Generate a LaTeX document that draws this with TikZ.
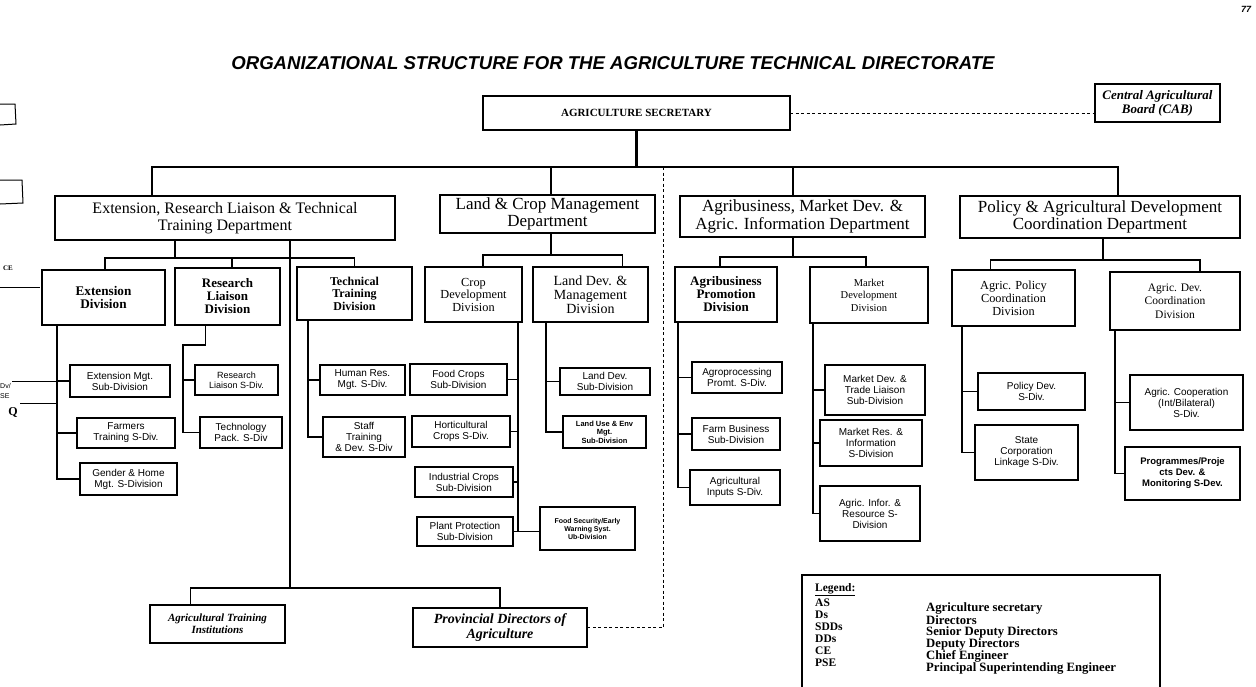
\documentclass[tikz,border=0pt]{standalone}
\usepackage{fontspec}
\setmainfont{Liberation Serif}
\setsansfont{Liberation Sans}
\begin{document}
\begin{tikzpicture}[x=1pt,y=-1pt,
  box/.style={draw, align=center, inner sep=0pt, outer sep=0pt},
  asbox/.style={box, line width=2.6pt, font=\fontsize{11}{12}\selectfont\bfseries},
  cabbox/.style={box, line width=1.2pt, font=\fontsize{13}{14}\selectfont\bfseries\itshape},
  dept/.style={box, line width=2.4pt, font=\fontsize{17}{17.5}\selectfont},
  divn/.style={box, line width=2.2pt, font=\fontsize{13}{13}\selectfont\bfseries},
  divr/.style={box, line width=2.2pt, font=\fontsize{12}{12.5}\selectfont},
  sub/.style={box, line width=1.2pt, font=\sffamily\fontsize{10}{11}\selectfont},
  subs/.style={box, line width=1.2pt, font=\sffamily\fontsize{7}{8}\selectfont\bfseries},
  bottombox/.style={box, line width=1.2pt, font=\fontsize{14}{15}\selectfont\bfseries\itshape},
  conn/.style={line width=1.1pt},
  bus/.style={line width=2.6pt},
  dbus/.style={line width=1.8pt},
  dashl/.style={line width=1pt, dash pattern=on 3pt off 2.5pt},
  leg/.style={anchor=west, inner sep=0pt, font=\fontsize{11.5}{12}\selectfont\bfseries},
  legr/.style={anchor=west, inner sep=0pt, font=\fontsize{12.7}{12}\selectfont\bfseries},
]
\useasboundingbox (0,0) rectangle (1256,686);

% title and page number
\node[font=\sffamily\bfseries\itshape\fontsize{18.6}{20}\selectfont] (title) at (613,63)
  {ORGANIZATIONAL STRUCTURE FOR THE AGRICULTURE TECHNICAL DIRECTORATE};
\node[font=\sffamily\bfseries\itshape\fontsize{9}{10}\selectfont] (pg) at (1246,9) {77};

% top level
\node[asbox, minimum width=307pt, minimum height=34pt] (AS) at (636.5,113) {AGRICULTURE SECRETARY};
\node[cabbox, minimum width=125pt, minimum height=38pt] (CAB) at (1157.5,103) {Central Agricultural\\Board (CAB)};
\draw[dashl] (AS.east) -- (AS.east -| CAB.west);

% departments
\node[dept, minimum width=340pt, minimum height=44pt, font=\fontsize{16}{17}\selectfont] (D1) at (225,218) {Extension, Research Liaison \& Technical\\Training Department};
\node[dept, minimum width=215pt, minimum height=38pt] (D2) at (547.5,214) {Land \& Crop Management\\Department};
\node[dept, minimum width=245pt, minimum height=41pt] (D3) at (802.5,216.5) {Agribusiness, Market Dev. \&\\Agric. Information Department};
\node[dept, minimum width=280pt, minimum height=42pt] (D4) at (1100,217) {Policy \& Agricultural Development\\Coordination Department};

\path (AS.south) ++(0,37) coordinate (mb);
\draw[bus] (AS.south) -- (mb);
\draw[bus] ([xshift=-73pt]D1.north) |- (mb) -| ([xshift=18pt]D4.north);
\draw[bus] ([xshift=3.5pt]D2.north) -- ([xshift=3.5pt]D2.north |- mb);
\draw[bus] ([xshift=-9.5pt]D3.north) -- ([xshift=-9.5pt]D3.north |- mb);

% divisions
\node[divn, minimum width=123pt, minimum height=55pt, font=\fontsize{13.2}{13.5}\selectfont\bfseries] (Ext) at (103.5,297.5) {Extension\\Division};
\node[divn, minimum width=105pt, minimum height=57pt] (RL) at (227.5,296.5) {Research\\Liaison\\Division};
\node[divn, minimum width=115pt, minimum height=53pt, font=\fontsize{12}{12.5}\selectfont\bfseries] (TT) at (354.5,293.5) {Technical\\Training\\Division};
\node[divr, minimum width=97pt, minimum height=55pt, font=\fontsize{12.3}{12.5}\selectfont] (CD) at (473.5,294.5) {Crop\\Development\\Division};
\node[divr, minimum width=115pt, minimum height=55pt, font=\fontsize{14}{14}\selectfont] (LD) at (590.5,294.5) {Land Dev. \&\\Management\\Division};
\node[divn, minimum width=102pt, minimum height=55pt, font=\fontsize{13}{13}\selectfont\bfseries] (AP) at (726,294.5) {Agribusiness\\Promotion\\Division};
\node[divr, minimum width=118pt, minimum height=56pt, font=\fontsize{10.5}{12.5}\selectfont] (MD) at (869,295) {Market\\Development\\Division};
\node[divr, minimum width=123pt, minimum height=56pt, font=\fontsize{12.3}{13}\selectfont] (APC) at (1013.5,298) {Agric. Policy\\Coordination\\Division};
\node[divr, minimum width=130pt, minimum height=58pt, font=\fontsize{11.5}{13.5}\selectfont] (ADC) at (1175,301) {Agric. Dev.\\Coordination\\Division};

% department -> division buses
\path ([xshift=-50pt]D1.south) ++(0,18) coordinate (b1);
\draw[dbus] ([xshift=-50pt]D1.south) -- (b1);
\draw[dbus] ([xshift=1.5pt]Ext.north) |- (b1) -| (TT.north);
\draw[dbus] ([xshift=4.5pt]RL.north) -- ([xshift=4.5pt]RL.north |- b1);
\path ([xshift=3.5pt]D2.south) ++(0,22) coordinate (b2);
\draw[dbus] ([xshift=3.5pt]D2.south) -- (b2);
\draw[dbus] ([xshift=9.5pt]CD.north) |- (b2) -| ([xshift=32pt]LD.north);
\path ([xshift=-9.5pt]D3.south) ++(0,20) coordinate (b3);
\draw[dbus] ([xshift=-9.5pt]D3.south) -- (b3);
\draw[dbus] ([xshift=-6pt]AP.north) |- (b3) -| ([xshift=-3pt]MD.north);
\path ([xshift=3pt]D4.south) ++(0,22) coordinate (b4);
\draw[dbus] ([xshift=3pt]D4.south) -- (b4);
\draw[dbus] ([xshift=-23pt]APC.north) |- (b4) -| ([xshift=25pt]ADC.north);

% extension sub-divisions
\node[sub, minimum width=100pt, minimum height=32pt] (EM) at (120,381) {Extension Mgt.\\Sub-Division};
\node[sub, minimum width=98pt, minimum height=30pt] (FT) at (126,433) {Farmers\\Training S-Div.};
\node[sub, minimum width=97pt, minimum height=32pt] (GH) at (128.5,479) {Gender \& Home\\Mgt. S-Division};
\path ([xshift=15pt]Ext.south west) coordinate (s1);
\draw[conn] (s1) |- (GH.west);
\draw[conn] (EM.west) -- (EM.west -| s1);
\draw[conn] (FT.west) -- (FT.west -| s1);

% research liaison sub-divisions
\node[sub, minimum width=83pt, minimum height=30pt, font=\sffamily\fontsize{9}{10}\selectfont] (RLS) at (236.5,380) {Research\\Liaison S-Div.};
\node[sub, minimum width=82pt, minimum height=31pt] (TP) at (241,432.5) {Technology\\Pack. S-Div};
\path (TP.west) ++(-17,0) coordinate (s2);
\draw[conn] ([xshift=-22pt]RL.south) -- ++(0,20) -| (s2) -- (TP.west);
\draw[conn] (RLS.west) -- (RLS.west -| s2);

% technical training sub-divisions
\node[sub, minimum width=85pt, minimum height=30pt] (HR) at (362.5,380) {Human Res.\\Mgt. S-Div.};
\node[sub, minimum width=82pt, minimum height=40pt] (ST) at (364,437) {Staff\\Training\\\& Dev. S-Div};
\path ([xshift=11pt]TT.south west) coordinate (s3);
\draw[conn] (s3) |- (ST.west);
\draw[conn] (HR.west) -- (HR.west -| s3);

% long line to training institutions / provincial directors
\node[bottombox, minimum width=135pt, minimum height=38pt, font=\fontsize{11}{12}\selectfont\bfseries\itshape] (ATI) at (217.5,624) {Agricultural Training\\Institutions};
\node[bottombox, minimum width=174pt, minimum height=39pt] (PDA) at (500,627.5) {Provincial Directors of\\Agriculture};
\path (PDA.north) ++(0,-20) coordinate (bb);
\draw[conn] ([xshift=65pt]D1.south) -- ([xshift=65pt]D1.south |- bb);
\draw[conn] ([xshift=-27pt]ATI.north) |- (bb) -- (PDA.north);

% crop development sub-divisions
\node[sub, minimum width=97pt, minimum height=31pt] (FC) at (458.5,379.5) {Food Crops\\Sub-Division};
\node[sub, minimum width=98pt, minimum height=31pt] (HC) at (461,431.5) {Horticultural\\Crops S-Div.};
\node[sub, minimum width=98pt, minimum height=30pt] (IC) at (464,482) {Industrial Crops\\Sub-Division};
\node[sub, minimum width=96pt, minimum height=29pt] (PP) at (465,531.5) {Plant Protection\\Sub-Division};
\node[subs, minimum width=95pt, minimum height=43pt] (FS) at (587.5,528.5) {Food Security/Early\\Warning Syst.\\Ub-Division};
\path ([xshift=-4pt]CD.south east) coordinate (s4);
\draw[conn] (s4) |- (PP.east);
\draw[conn] (PP.east) -- (PP.east -| FS.west);
\draw[conn] (FC.east) -- (FC.east -| s4);
\draw[conn] (HC.east) -- (HC.east -| s4);
\draw[conn] (IC.east) -- (IC.east -| s4);

% land development sub-divisions
\node[sub, minimum width=90pt, minimum height=27pt] (LDS) at (605,381.5) {Land Dev.\\Sub-Division};
\node[subs, minimum width=83pt, minimum height=32pt, font=\sffamily\fontsize{7.5}{8.5}\selectfont\bfseries] (LU) at (604.5,432) {Land Use \& Env\\Mgt.\\Sub-Division};
\path ([xshift=13pt]LD.south west) coordinate (s5);
\draw[conn] (s5) |- (LU.west);
\draw[conn] (LDS.west) -- (LDS.west -| s5);

% dashed link to provincial directors
\path (mb -| 663,0) coordinate (dt);
\draw[dashl] (dt) |- (PDA.east);

% agribusiness promotion sub-divisions
\node[sub, minimum width=90pt, minimum height=31pt] (AGP) at (737,377.5) {Agroprocessing\\Promt. S-Div.};
\node[sub, minimum width=88pt, minimum height=32pt] (FB) at (736,434) {Farm Business\\Sub-Division};
\node[sub, minimum width=90pt, minimum height=35pt] (AI) at (735,487.5) {Agricultural\\Inputs S-Div.};
\path ([xshift=3pt]AP.south west) coordinate (s6);
\draw[conn] (s6) |- (AI.west);
\draw[conn] (AGP.west) -- (AGP.west -| s6);
\draw[conn] (FB.west) -- (FB.west -| s6);

% market development sub-divisions
\node[sub, minimum width=100pt, minimum height=50pt] (MDT) at (875,390) {Market Dev. \&\\Trade Liaison\\Sub-Division};
\node[sub, minimum width=102pt, minimum height=46pt] (MRI) at (871,443) {Market Res. \&\\Information\\S-Division};
\node[sub, minimum width=100pt, minimum height=55pt] (AIR) at (870,513.5) {Agric. Infor. \&\\Resource S-\\Division};
\path ([xshift=3pt]MD.south west) coordinate (s7);
\draw[conn] (s7) |- (AIR.west);
\draw[conn] (MDT.west) -- (MDT.west -| s7);
\draw[conn] (MRI.west) -- (MRI.west -| s7);

% policy coordination sub-divisions
\node[sub, minimum width=107pt, minimum height=37pt] (PD) at (1031.5,391.5) {Policy Dev.\\S-Div.};
\node[sub, minimum width=103pt, minimum height=55pt] (SC) at (1026.5,452.5) {State\\Corporation\\Linkage S-Div.};
\path ([xshift=10pt]APC.south west) coordinate (s8);
\draw[conn] (s8) |- (SC.west);
\draw[conn] (PD.west) -- (PD.west -| s8);

% development coordination sub-divisions
\node[sub, minimum width=113pt, minimum height=55pt] (AC) at (1186.5,402.5) {Agric. Cooperation\\(Int/Bilateral)\\S-Div.};
\node[sub, minimum width=115pt, minimum height=53pt, font=\sffamily\bfseries\fontsize{9.5}{11}\selectfont] (PPD) at (1182.5,473.5) {Programmes/Proje\\cts Dev. \&\\Monitoring S-Dev.};
\path ([xshift=5pt]ADC.south west) coordinate (s9);
\draw[conn] (s9) |- (PPD.west);
\draw[conn] (AC.west) -- (AC.west -| s9);

% legend
\node[draw, line width=2.2pt, minimum width=358pt, minimum height=118pt, inner sep=0pt] (LG) at (981,634) {};
\node[leg] (lgt) at (815,590) {\underline{Legend:}};
\node[leg] (l1) at (815,603) {AS};
\node[leg] (l2) at (815,615) {Ds};
\node[leg] (l3) at (815,627) {SDDs};
\node[leg] (l4) at (815,639) {DDs};
\node[leg] (l5) at (815,651) {CE};
\node[leg] (l6) at (815,663) {PSE};
\node[legr] (r1) at (926,608) {Agriculture secretary};
\node[legr] (r2) at (926,620) {Directors};
\node[legr] (r3) at (926,632) {Senior Deputy Directors};
\node[legr] (r4) at (926,644) {Deputy Directors};
\node[legr] (r5) at (926,656) {Chief Engineer};
\node[legr] (r6) at (926,668) {Principal Superintending Engineer};

% fragments of the neighbouring page at the left edge
\draw[line width=1pt] (0,104) -- (15,104) -- (16,124) -- (0,125);
\draw[line width=1pt] (0,180) -- (22,180) -- (23,203) -- (0,204);
\node[font=\bfseries\fontsize{7}{8}\selectfont, inner sep=0pt] (fce) at (8,268) {CE};
\draw[line width=0.8pt] (0,287) -- (40,287);
\node[font=\sffamily\fontsize{7}{8}\selectfont, inner sep=0pt, anchor=west] (fdv) at (0,386) {Dv/};
\node[font=\sffamily\fontsize{7}{8}\selectfont, inner sep=0pt, anchor=west] (fse) at (0,396) {SE};
\node[font=\bfseries\fontsize{12}{12}\selectfont, inner sep=0pt] (fq) at (13,412) {Q};
\draw[line width=0.8pt] (12,381) -- (EM.west -| s1);
\draw[line width=0.8pt] (20,403) -- (s1 |- 0,403);
\end{tikzpicture}
\end{document}
